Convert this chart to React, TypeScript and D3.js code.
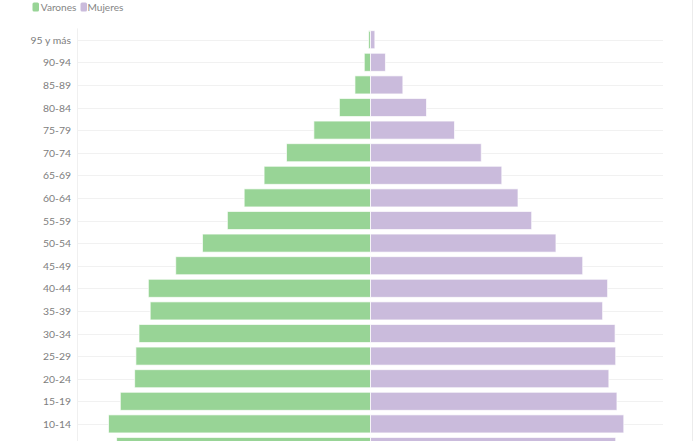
import React from "react";
import * as d3 from "d3";

const ageGroups = [
  "95 y más", "90-94", "85-89", "80-84", "75-79", "70-74", "65-69", "60-64",
  "55-59", "50-54", "45-49", "40-44", "35-39", "30-34", "25-29", "20-24",
  "15-19", "10-14", "5-9", "0-4",
];
// porcentaje de la población
const varones = [
  0.03, 0.10, 0.25, 0.50, 0.91, 1.35, 1.71, 2.03, 2.30, 2.70, 3.13, 3.57,
  3.54, 3.72, 3.77, 3.79, 4.02, 4.21, 4.08, 3.85,
];
const mujeres = [
  0.07, 0.24, 0.52, 0.90, 1.35, 1.78, 2.11, 2.37, 2.59, 2.98, 3.41, 3.81,
  3.73, 3.93, 3.94, 3.83, 3.96, 4.07, 3.94, 3.70,
];
const seriesNames = ["Varones", "Mujeres"];
const seriesColors = ["#98d496", "#cabbdc"];

const W = 700;
const H = 441;
const FONT = "Lato, Roboto, sans-serif";

export default function App() {
  const M = 4.7;
  const left = 78;
  const right = 663;
  const top = 28.4;
  const step = 22.6;
  const x = d3.scaleLinear().domain([-M, M]).range([left, right]);
  const y = d3
    .scaleBand<string>()
    .domain(ageGroups)
    .range([top, top + step * ageGroups.length])
    .paddingInner(0.2)
    .paddingOuter(0.1);
  const bw = y.bandwidth();
  const x0 = x(0);

  return (
    <svg
      width={W}
      height={H}
      style={{ position: "absolute", left: 0, top: 0, background: "#fff" }}
      fontFamily={FONT}
    >
      {/* legend */}
      <g>
        <rect x={32.5} y={2.5} width={6.5} height={9} rx={1.5} fill={seriesColors[0]} />
        <text x={40.8} y={7} dy="0.36em" fontSize={10.1} fill="#858585">
          {seriesNames[0]}
        </text>
        <rect x={80.5} y={2.5} width={6.5} height={9} rx={1.5} fill={seriesColors[1]} />
        <text x={87.5} y={7} dy="0.36em" fontSize={10.1} fill="#858585">
          {seriesNames[1]}
        </text>
      </g>
      {/* axis frame */}
      <line x1={left - 0.5} x2={left - 0.5} y1={top} y2={H} stroke="#f0f0f0" />
      <line x1={692.5} x2={692.5} y1={0} y2={H} stroke="#ececec" />
      {ageGroups.map((g) => {
        const cy = (y(g) ?? 0) + bw / 2;
        return (
          <g key={"grid" + g}>
            <line x1={left} x2={right} y1={Math.round(cy) + 0.5} y2={Math.round(cy) + 0.5} stroke="#f1f1f1" />
            {cy < H ? (
              <text x={71} y={cy} dy="0.4em" textAnchor="end" fontSize={10.4} fill="#7d7d7d">
                {g}
              </text>
            ) : null}
          </g>
        );
      })}
      {ageGroups.map((g, i) => (
        <g key={"bar" + g}>
          <rect
            x={x(-varones[i])}
            y={y(g)}
            width={x0 - x(-varones[i])}
            height={bw}
            fill={seriesColors[0]}
            stroke="#ffffff"
            strokeOpacity={0.7}
            strokeWidth={1}
          />
          <rect
            x={x0}
            y={y(g)}
            width={x(mujeres[i]) - x0}
            height={bw}
            fill={seriesColors[1]}
            stroke="#ffffff"
            strokeOpacity={0.7}
            strokeWidth={1}
          />
        </g>
      ))}
    </svg>
  );
}
